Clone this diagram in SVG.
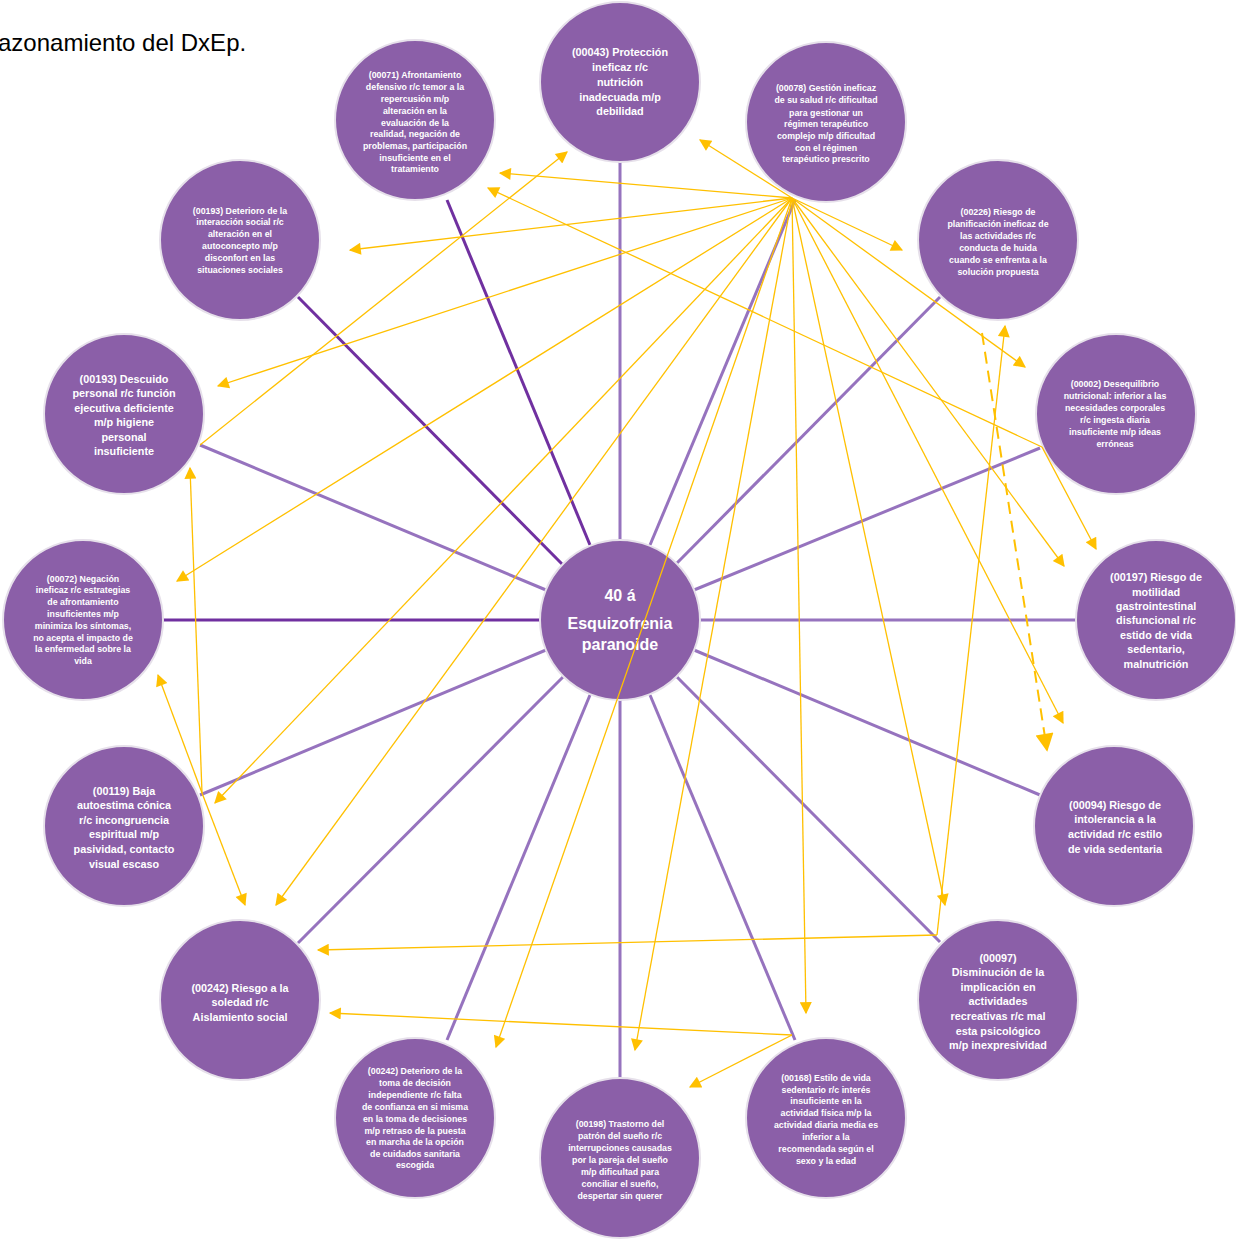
<svg xmlns="http://www.w3.org/2000/svg" width="1236" height="1239" viewBox="0 0 1236 1239">
<style>
.n{fill:#8B5FA8;stroke:#E6E0EA;stroke-width:2}
.t{font-family:"Liberation Sans",Arial,sans-serif;font-weight:bold;fill:#fff;text-anchor:middle}
.s{font-size:8.8px}
.m{font-size:10.8px}
.d{stroke:#7030A0;stroke-width:3}
.l{stroke:#9673BE;stroke-width:3}
.a{stroke:#FFC000;stroke-width:1.3;fill:none;marker-end:url(#ah)}
</style>
<defs>
<marker id="ah" viewBox="0 0 10 10" refX="9" refY="5" markerWidth="14" markerHeight="12" markerUnits="userSpaceOnUse" orient="auto"><path d="M0,0 L10,5 L0,10 z" fill="#FFC000"/></marker>
<marker id="ah2" viewBox="0 0 10 10" refX="9" refY="5" markerWidth="20" markerHeight="18" markerUnits="userSpaceOnUse" orient="auto"><path d="M0,0 L10,5 L0,10 z" fill="#FFC000"/></marker>
</defs>
<rect width="1236" height="1239" fill="#fff"/>
<text x="-2" y="51" font-family="Liberation Sans,Arial,sans-serif" font-size="24" fill="#000">azonamiento del DxEp.</text>
<g id="spokes">
<line class="l" x1="620" y1="162" x2="620" y2="540"/>
<line class="d" x1="447" y1="200" x2="590" y2="545"/>
<line class="l" x1="795" y1="200" x2="650" y2="545"/>
<line class="d" x1="298" y1="297" x2="563" y2="565"/>
<line class="l" x1="940" y1="297" x2="677" y2="563"/>
<line class="l" x1="200" y1="445" x2="546" y2="590"/>
<line class="l" x1="1040" y1="448" x2="694" y2="590"/>
<line class="d" x1="163" y1="620" x2="540" y2="620"/>
<line class="l" x1="700" y1="620" x2="1076" y2="620"/>
<line class="l" x1="200" y1="795" x2="546" y2="650"/>
<line class="l" x1="1040" y1="795" x2="694" y2="650"/>
<line class="l" x1="298" y1="943" x2="563" y2="677"/>
<line class="l" x1="940" y1="942" x2="677" y2="677"/>
<line class="l" x1="447" y1="1040" x2="590" y2="695"/>
<line class="l" x1="795" y1="1040" x2="650" y2="695"/>
<line class="l" x1="620" y1="700" x2="620" y2="1078"/>
</g>
<g id="n00043"><circle class="n" cx="620" cy="82" r="80"/>
<text class="t m"><tspan x="620" y="56">(00043) Protección</tspan><tspan x="620" y="71">ineficaz r/c</tspan><tspan x="620" y="86">nutrición</tspan><tspan x="620" y="101">inadecuada m/p</tspan><tspan x="620" y="115">debilidad</tspan></text></g>
<g id="n00071"><circle class="n" cx="415" cy="120" r="80"/>
<text class="t s"><tspan x="415" y="78">(00071) Afrontamiento</tspan><tspan x="415" y="90">defensivo r/c temor a la</tspan><tspan x="415" y="102">repercusión m/p</tspan><tspan x="415" y="114">alteración en la</tspan><tspan x="415" y="126">evaluación de la</tspan><tspan x="415" y="137">realidad, negación de</tspan><tspan x="415" y="149">problemas, participación</tspan><tspan x="415" y="161">insuficiente en el</tspan><tspan x="415" y="172">tratamiento</tspan></text></g>
<g id="n00078"><circle class="n" cx="826" cy="122" r="80"/>
<text class="t s"><tspan x="826" y="91">(00078) Gestión ineficaz</tspan><tspan x="826" y="103">de su salud r/c dificultad</tspan><tspan x="826" y="116">para gestionar un</tspan><tspan x="826" y="127">régimen terapéutico</tspan><tspan x="826" y="139">complejo m/p dificultad</tspan><tspan x="826" y="151">con el régimen</tspan><tspan x="826" y="162">terapéutico prescrito</tspan></text></g>
<g id="n00193a"><circle class="n" cx="240" cy="240" r="80"/>
<text class="t s"><tspan x="240" y="214">(00193) Deterioro de la</tspan><tspan x="240" y="225">interacción social r/c</tspan><tspan x="240" y="237">alteración en el</tspan><tspan x="240" y="249">autoconcepto m/p</tspan><tspan x="240" y="261">disconfort en las</tspan><tspan x="240" y="273">situaciones sociales</tspan></text></g>
<g id="n00226"><circle class="n" cx="998" cy="240" r="80"/>
<text class="t s"><tspan x="998" y="215">(00226) Riesgo de</tspan><tspan x="998" y="227">planificación ineficaz de</tspan><tspan x="998" y="239">las actividades r/c</tspan><tspan x="998" y="251">conducta de huida</tspan><tspan x="998" y="263">cuando se enfrenta a la</tspan><tspan x="998" y="275">solución propuesta</tspan></text></g>
<g id="n00193b"><circle class="n" cx="124" cy="414" r="80"/>
<text class="t m"><tspan x="124" y="383">(00193) Descuido</tspan><tspan x="124" y="397">personal r/c función</tspan><tspan x="124" y="412">ejecutiva deficiente</tspan><tspan x="124" y="426">m/p higiene</tspan><tspan x="124" y="441">personal</tspan><tspan x="124" y="455">insuficiente</tspan></text></g>
<g id="n00002"><circle class="n" cx="1116" cy="414" r="80"/>
<text class="t s"><tspan x="1115" y="387">(00002) Desequilibrio</tspan><tspan x="1115" y="399">nutricional: inferior a las</tspan><tspan x="1115" y="411">necesidades corporales</tspan><tspan x="1115" y="423">r/c ingesta diaria</tspan><tspan x="1115" y="435">insuficiente m/p ideas</tspan><tspan x="1115" y="447">erróneas</tspan></text></g>
<g id="n00072"><circle class="n" cx="83" cy="620" r="80"/>
<text class="t s"><tspan x="83" y="582">(00072) Negación</tspan><tspan x="83" y="593">ineficaz r/c estrategias</tspan><tspan x="83" y="605">de afrontamiento</tspan><tspan x="83" y="617">insuficientes m/p</tspan><tspan x="83" y="629">minimiza los síntomas,</tspan><tspan x="83" y="641">no acepta el impacto de</tspan><tspan x="83" y="652">la enfermedad sobre la</tspan><tspan x="83" y="664">vida</tspan></text></g>
<g id="n00197"><circle class="n" cx="1156" cy="620" r="80"/>
<text class="t m"><tspan x="1156" y="581">(00197) Riesgo de</tspan><tspan x="1156" y="596">motilidad</tspan><tspan x="1156" y="610">gastrointestinal</tspan><tspan x="1156" y="624">disfuncional r/c</tspan><tspan x="1156" y="639">estido de vida</tspan><tspan x="1156" y="653">sedentario,</tspan><tspan x="1156" y="668">malnutrición</tspan></text></g>
<g id="n00119"><circle class="n" cx="124" cy="826" r="80"/>
<text class="t m"><tspan x="124" y="795">(00119) Baja</tspan><tspan x="124" y="809">autoestima cónica</tspan><tspan x="124" y="824">r/c incongruencia</tspan><tspan x="124" y="838">espiritual m/p</tspan><tspan x="124" y="853">pasividad, contacto</tspan><tspan x="124" y="868">visual escaso</tspan></text></g>
<g id="n00094"><circle class="n" cx="1114" cy="826" r="80"/>
<text class="t m"><tspan x="1115" y="809">(00094) Riesgo de</tspan><tspan x="1115" y="823">intolerancia a la</tspan><tspan x="1115" y="838">actividad r/c estilo</tspan><tspan x="1115" y="853">de vida sedentaria</tspan></text></g>
<g id="n00242a"><circle class="n" cx="240" cy="1000" r="80"/>
<text class="t m"><tspan x="240" y="992">(00242) Riesgo a la</tspan><tspan x="240" y="1006">soledad r/c</tspan><tspan x="240" y="1021">Aislamiento social</tspan></text></g>
<g id="n00097"><circle class="n" cx="998" cy="1000" r="80"/>
<text class="t m"><tspan x="998" y="962">(00097)</tspan><tspan x="998" y="976">Disminución de la</tspan><tspan x="998" y="991">implicación en</tspan><tspan x="998" y="1005">actividades</tspan><tspan x="998" y="1020">recreativas r/c mal</tspan><tspan x="998" y="1035">esta psicológico</tspan><tspan x="998" y="1049">m/p inexpresividad</tspan></text></g>
<g id="n00242b"><circle class="n" cx="415" cy="1118" r="80"/>
<text class="t s"><tspan x="415" y="1074">(00242) Deterioro de la</tspan><tspan x="415" y="1086">toma de decisión</tspan><tspan x="415" y="1098">independiente r/c falta</tspan><tspan x="415" y="1110">de confianza en si misma</tspan><tspan x="415" y="1122">en la toma de decisiones</tspan><tspan x="415" y="1134">m/p retraso de la puesta</tspan><tspan x="415" y="1145">en marcha de la opción</tspan><tspan x="415" y="1157">de cuidados sanitaria</tspan><tspan x="415" y="1168">escogida</tspan></text></g>
<g id="n00198"><circle class="n" cx="620" cy="1158" r="80"/>
<text class="t s"><tspan x="620" y="1127">(00198) Trastorno del</tspan><tspan x="620" y="1139">patrón del sueño r/c</tspan><tspan x="620" y="1151">interrupciones causadas</tspan><tspan x="620" y="1163">por la pareja del sueño</tspan><tspan x="620" y="1175">m/p dificultad para</tspan><tspan x="620" y="1187">conciliar el sueño,</tspan><tspan x="620" y="1199">despertar sin querer</tspan></text></g>
<g id="n00168"><circle class="n" cx="826" cy="1118" r="80"/>
<text class="t s"><tspan x="826" y="1081">(00168) Estilo de vida</tspan><tspan x="826" y="1093">sedentario r/c interés</tspan><tspan x="826" y="1104">insuficiente en la</tspan><tspan x="826" y="1116">actividad física m/p la</tspan><tspan x="826" y="1128">actividad diaria media es</tspan><tspan x="826" y="1140">inferior a la</tspan><tspan x="826" y="1152">recomendada según el</tspan><tspan x="826" y="1164">sexo y la edad</tspan></text></g>
<g id="center"><circle class="n" cx="620" cy="620" r="80"/>
<text class="t" font-size="16"><tspan x="620" y="601">40 á</tspan><tspan x="620" y="629">Esquizofrenia</tspan><tspan x="620" y="650">paranoide</tspan></text></g>
<g id="connectors">
<line class="a" x1="792" y1="198" x2="700" y2="140"/>
<line class="a" x1="792" y1="198" x2="500" y2="173"/>
<line class="a" x1="792" y1="198" x2="350" y2="250"/>
<line class="a" x1="792" y1="198" x2="218" y2="386"/>
<line class="a" x1="792" y1="198" x2="177" y2="581"/>
<line class="a" x1="792" y1="198" x2="215" y2="803"/>
<line class="a" x1="792" y1="198" x2="276" y2="905"/>
<line class="a" x1="792" y1="198" x2="496" y2="1047"/>
<line class="a" x1="792" y1="198" x2="635" y2="1050"/>
<line class="a" x1="792" y1="198" x2="806" y2="1013"/>
<line class="a" x1="792" y1="198" x2="945" y2="905"/>
<line class="a" x1="792" y1="198" x2="1063" y2="723"/>
<line class="a" x1="792" y1="198" x2="1064" y2="566"/>
<line class="a" x1="792" y1="198" x2="1025" y2="367"/>
<line class="a" x1="792" y1="198" x2="902" y2="250"/>
<line class="a" x1="200" y1="445" x2="567" y2="152"/>
<line class="a" x1="1042" y1="447" x2="488" y2="188"/>
<line class="a" x1="1042" y1="447" x2="1096" y2="549"/>
<line x1="982" y1="333" x2="1047" y2="750" stroke="#FFC000" stroke-width="2" stroke-dasharray="12,7" marker-end="url(#ah2)"/>
<line class="a" x1="937" y1="935" x2="1005" y2="326"/>
<line class="a" x1="937" y1="935" x2="318" y2="950"/>
<line class="a" x1="792" y1="1035" x2="330" y2="1013"/>
<line class="a" x1="792" y1="1035" x2="690" y2="1087"/>
<line class="a" x1="202" y1="793" x2="190" y2="468"/>
<line class="a" x1="202" y1="793" x2="158" y2="675"/>
<line class="a" x1="202" y1="793" x2="245" y2="905"/>
</g>
</svg>
